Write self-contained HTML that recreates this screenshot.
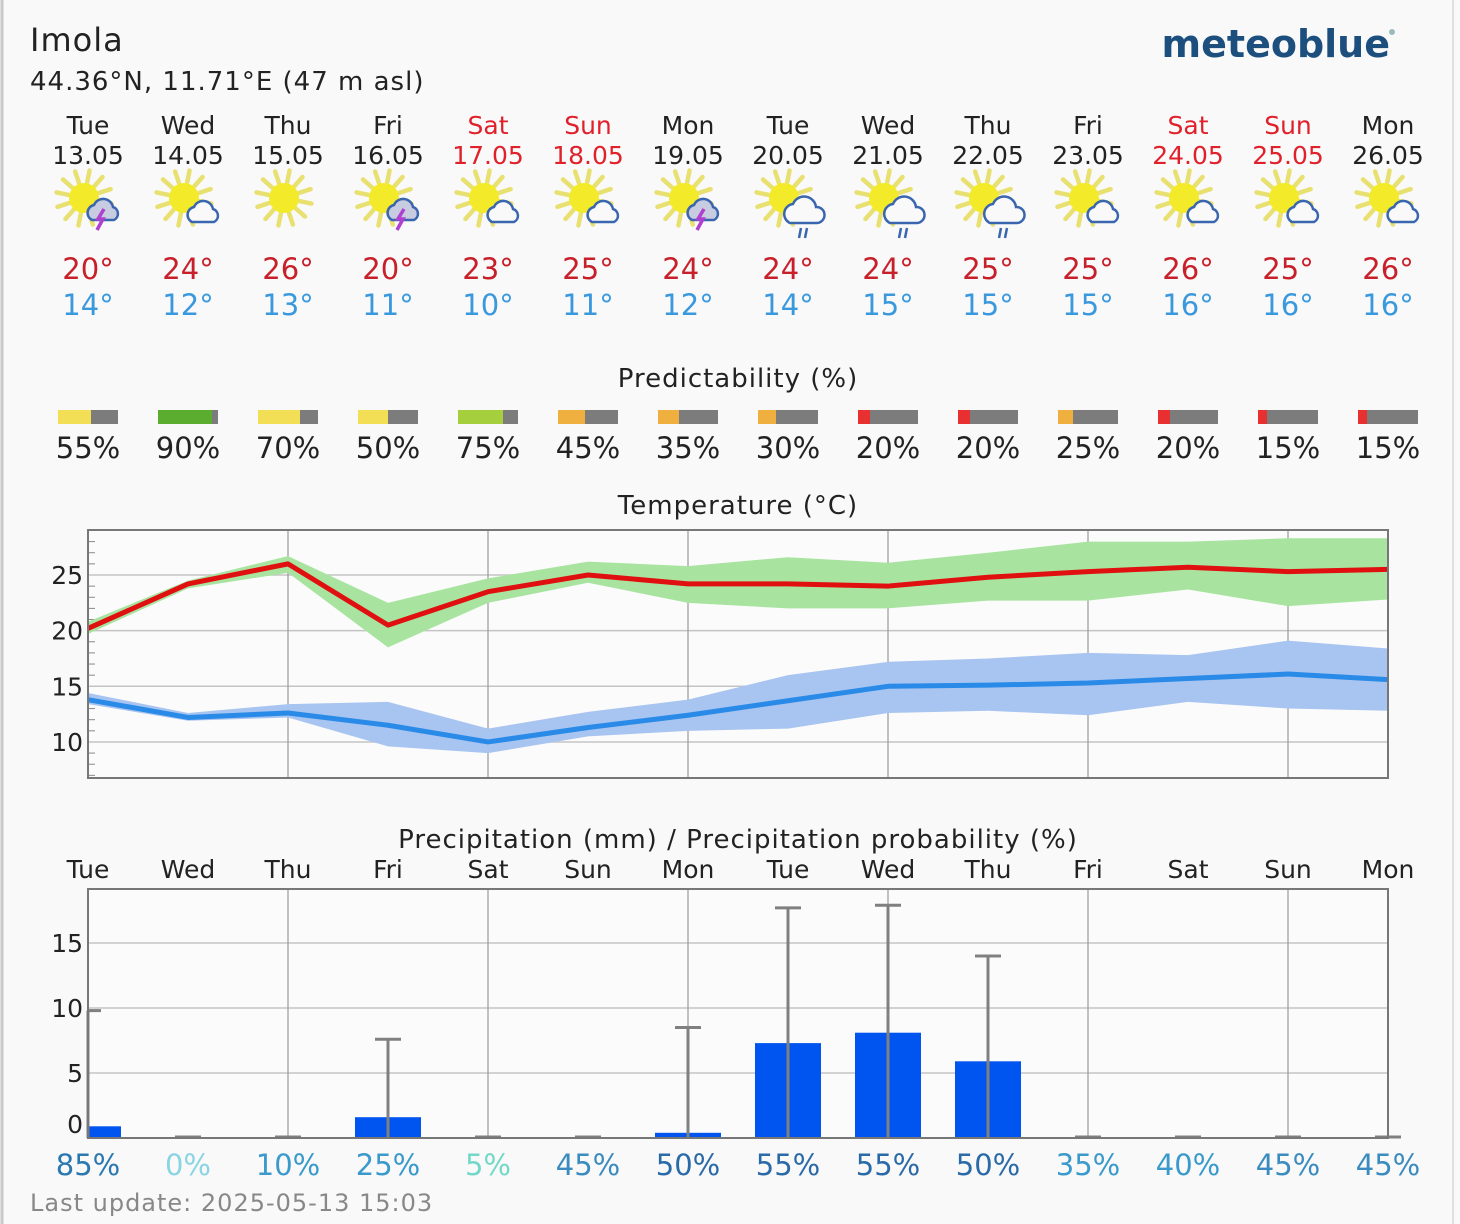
<!DOCTYPE html>
<html><head><meta charset="utf-8">
<style>
html,body{margin:0;padding:0;background:#f9f9f9;}
svg{display:block;font-family:"DejaVu Sans","Liberation Sans",sans-serif;}
.ls{letter-spacing:1px;}
</style></head>
<body>
<svg id="chart" width="1460" height="1224" viewBox="0 0 1460 1224">
<rect x="0" y="0" width="1460" height="1224" fill="#f9f9f9"/>
<line x1="2" y1="0" x2="2" y2="1224" stroke="#c8c8c8" stroke-width="3"/>
<line x1="1453" y1="0" x2="1453" y2="1224" stroke="#e0e0e0" stroke-width="2"/>
<text x="30" y="51" font-size="32" fill="#222" class="ls">Imola</text>
<text x="30" y="90" font-size="26" fill="#222" class="ls">44.36°N, 11.71°E (47 m asl)</text>
<text x="1390" y="57" font-size="38" font-weight="bold" fill="#1c4f7e" text-anchor="end">meteoblue</text>
<circle cx="1392" cy="32" r="3" fill="#9bb"/>
<text x="738" y="387" font-size="26" fill="#222" text-anchor="middle" class="ls">Predictability (%)</text>
<text x="738" y="514" font-size="26" fill="#222" text-anchor="middle" class="ls">Temperature (°C)</text>
<text x="738" y="848" font-size="26" fill="#222" text-anchor="middle" class="ls">Precipitation (mm) / Precipitation probability (%)</text>
<text x="30" y="1211" font-size="24" fill="#888" class="ls">Last update: 2025-05-13 15:03</text>
<g id="days"></g><g id="temp"></g><g id="precip"></g>
</svg>
<script>
const dayNames=["Tue","Wed","Thu","Fri","Sat","Sun","Mon","Tue","Wed","Thu","Fri","Sat","Sun","Mon"];
const dates=["13.05","14.05","15.05","16.05","17.05","18.05","19.05","20.05","21.05","22.05","23.05","24.05","25.05","26.05"];
const icons=["thunder","cloud","sun","thunder","cloud","cloud","thunder","rain","rain","rain","cloud","cloud","cloud","cloud"];
const maxLabels=[20,24,26,20,23,25,24,24,24,25,25,26,25,26];
const minLabels=[14,12,13,11,10,11,12,14,15,15,15,16,16,16];
const predictability=[55,90,70,50,75,45,35,30,20,20,25,20,15,15];
const tMax=[20.2,24.2,26.0,20.5,23.5,25.0,24.2,24.2,24.0,24.8,25.3,25.7,25.3,25.5];
const tMaxHi=[20.8,24.5,26.7,22.5,24.7,26.2,25.8,26.6,26.1,27.0,28.0,28.0,28.3,28.3];
const tMaxLo=[19.7,23.8,25.2,18.5,22.5,24.3,22.5,22.0,22.0,22.7,22.7,23.7,22.2,22.8];
const tMin=[13.8,12.2,12.6,11.5,10.0,11.3,12.4,13.7,15.0,15.1,15.3,15.7,16.1,15.6];
const tMinHi=[14.4,12.6,13.4,13.6,11.2,12.7,13.8,16.0,17.2,17.5,18.0,17.8,19.1,18.4];
const tMinLo=[13.4,11.9,12.2,9.6,9.0,10.5,11.0,11.2,12.6,12.8,12.4,13.6,13.0,12.8];
const tempTicks=[10,15,20,25];
const precip=[0.9,0,0,1.6,0,0,0.4,7.3,8.1,5.9,0,0,0,0];
const precipMax=[9.8,0,0,7.6,0,0,8.5,17.7,17.9,14.0,0,0,0,0];
const precipProb=[85,0,10,25,5,45,50,55,55,50,35,40,45,45];
const precipTicks=[0,5,10,15];
const weekend=[4,5,11,12];

const NS="http://www.w3.org/2000/svg";
function mk(parent,tag,attrs,txt){const e=document.createElementNS(NS,tag);for(const k in attrs)e.setAttribute(k,attrs[k]);if(txt!==undefined)e.textContent=txt;parent.appendChild(e);return e;}
const X=i=>88+i*100;
const yT=v=>575-(v-25)*11.13;
const yP=v=>1138-v*13.0;

const gd=document.getElementById('days');
function predColor(p){if(p>=85)return"#5aad2f";if(p>=75)return"#a5cf3c";if(p>=50)return"#f2df55";if(p>=25)return"#f0b040";return"#e83030";}
function icon(g,type,cx,cy){
  const sx=cx-6,sy=cy-8;
  for(let a=0;a<12;a++){const an=a*Math.PI/6+0.2;mk(g,'line',{x1:sx+Math.cos(an)*16,y1:sy+Math.sin(an)*16,x2:sx+Math.cos(an)*28,y2:sy+Math.sin(an)*28,stroke:"#e8e070","stroke-width":4.5,"stroke-linecap":"round"});}
  mk(g,'circle',{cx:sx,cy:sy,r:15,fill:"#f3ea2a"});
  if(type==="sun")return;
  if(type==="cloud"){
    mk(g,'path',{d:`M${cx+2},${cy+16} a8,8 0 0 1 2,-15 a10,10 0 0 1 19,2 a7,7 0 0 1 1,13 z`,fill:"#f9f9f9",stroke:"#3a66b0","stroke-width":2.5});
  } else if(type==="thunder"){
    mk(g,'path',{d:`M${cx+2},${cy+14} a8,8 0 0 1 2,-15 a10,10 0 0 1 19,2 a7,7 0 0 1 1,13 z`,fill:"#c8cce0",stroke:"#3a66b0","stroke-width":2.5});
    mk(g,'path',{d:`M${cx+14},${cy+3} l-6,10 h5 l-6,11`,fill:"none",stroke:"#b040d0","stroke-width":3.5});
  } else {
    mk(g,'path',{d:`M${cx},${cy+17} a10,10 0 0 1 3,-19 a12,12 0 0 1 23,3 a8,8 0 0 1 1,16 z`,fill:"#f9f9f9",stroke:"#3a66b0","stroke-width":2.5});
    mk(g,'path',{d:`M${cx+11},${cy+22} l-2,10 M${cx+17},${cy+22} l-2,10`,stroke:"#3a66b0","stroke-width":2.5});
  }
}
dayNames.forEach((d,i)=>{
  const cx=X(i);const red=weekend.includes(i);
  const col=mk(gd,'g',{});
  
  
  mk(col,'text',{x:cx,y:134,"font-size":25,"text-anchor":"middle",fill:red?"#e0202a":"#222"},d);
  mk(col,'text',{x:cx,y:164,"font-size":25,"text-anchor":"middle",fill:red?"#e0202a":"#222"},dates[i]);
  const ig=mk(col,'g',{});
  
  
  icon(ig,icons[i],cx+2,206);
  mk(col,'text',{x:cx,y:279,"font-size":29,"text-anchor":"middle",fill:"#c8202a"},maxLabels[i]+"°");
  mk(col,'text',{x:cx,y:315,"font-size":29,"text-anchor":"middle",fill:"#3a98dc"},minLabels[i]+"°");
  const w=60*predictability[i]/100;
  mk(col,'rect',{x:cx-30,y:410,width:60,height:14,fill:"#7c7c7c"});
  const pb=mk(col,'rect',{x:cx-30,y:410,width:w,height:14,fill:predColor(predictability[i])});
  
  
  mk(col,'text',{x:cx,y:458,"font-size":29,"text-anchor":"middle",fill:"#222"},predictability[i]+"%");
});

const gt=document.getElementById('temp');
mk(gt,'rect',{x:88,y:530,width:1300,height:248,fill:"#fbfbfb"});
tempTicks.forEach(t=>{mk(gt,'line',{x1:88,x2:1388,y1:yT(t),y2:yT(t),stroke:"#c4c4c4","stroke-width":1.5});
  const tl=mk(gt,'text',{x:83,y:yT(t)+9,"font-size":25,"text-anchor":"end",fill:"#222"},String(t));
  });
for(let v=7;v<=29;v++){mk(gt,'line',{x1:88,x2:v%5===0?88:95,y1:yT(v),y2:yT(v),stroke:"#888","stroke-width":1});}
for(let i=2;i<14;i+=2)mk(gt,'line',{x1:X(i),x2:X(i),y1:530,y2:778,stroke:"#999","stroke-width":1.2});
function band(hi,lo,fill,name){let d="M"+hi.map((v,i)=>X(i)+","+yT(v)).join(" L")+" L"+lo.map((v,i)=>X(i)+","+yT(v)).reverse().join(" L")+" Z";
  const p=mk(gt,'path',{d:d,fill:fill});}
band(tMaxHi,tMaxLo,"#a8e4a0","max-temp-range");
band(tMinHi,tMinLo,"#a8c4f0","min-temp-range");
function line(arr,col,name){const p=mk(gt,'polyline',{points:arr.map((v,i)=>X(i)+","+yT(v)).join(" "),fill:"none",stroke:col,"stroke-width":5,"stroke-linejoin":"round"});
  }
line(tMax,"#e01010","max-temp-line");
line(tMin,"#2a8ae8","min-temp-line");
mk(gt,'rect',{x:88,y:530,width:1300,height:248,fill:"none",stroke:"#777","stroke-width":2});

const gp=document.getElementById('precip');
dayNames.forEach((d,i)=>{mk(gp,'text',{x:X(i),y:878,"font-size":25,"text-anchor":"middle",fill:"#222"},d);});
mk(gp,'rect',{x:88,y:889,width:1300,height:249,fill:"#fbfbfb"});
precipTicks.forEach(t=>{if(t>0)mk(gp,'line',{x1:88,x2:1388,y1:yP(t),y2:yP(t),stroke:"#c4c4c4","stroke-width":1.5});
  const tl=mk(gp,'text',{x:83,y:t===0?yP(t)-5:yP(t)+9,"font-size":25,"text-anchor":"end",fill:"#222"},String(t));
  });
for(let i=2;i<14;i+=2)mk(gp,'line',{x1:X(i),x2:X(i),y1:889,y2:1138,stroke:"#999","stroke-width":1.2});
precip.forEach((v,i)=>{
  const x=X(i);
  if(v>0){const bx=i===0?88:x-33,bw=i===0?33:66;
    const b=mk(gp,'rect',{x:bx,y:yP(v),width:bw,height:1138-yP(v),fill:"#0055f0"});
    }
  const m=precipMax[i];
  if(m>0){mk(gp,'line',{x1:x,x2:x,y1:yP(m),y2:1138,stroke:"#808080","stroke-width":3});
    mk(gp,'line',{x1:i===0?88:x-13,x2:x+13,y1:yP(m),y2:yP(m),stroke:"#808080","stroke-width":3});}
  else{mk(gp,'line',{x1:x-13,x2:x+13,y1:1137,y2:1137,stroke:"#808080","stroke-width":3});}
});
mk(gp,'rect',{x:88,y:889,width:1300,height:249,fill:"none",stroke:"#777","stroke-width":2});
function probColor(p){if(p===0)return"#8ad4e4";if(p<10)return"#74d8c8";if(p>=85)return"#2a78b0";if(p>=50)return"#2a6aa8";if(p>=45)return"#3a8cc0";return"#3a9acc";}
precipProb.forEach((p,i)=>{const t=mk(gp,'text',{x:X(i),y:1175,"font-size":29,"text-anchor":"middle",fill:probColor(p)},p+"%");
  });
</script>
</body></html>
